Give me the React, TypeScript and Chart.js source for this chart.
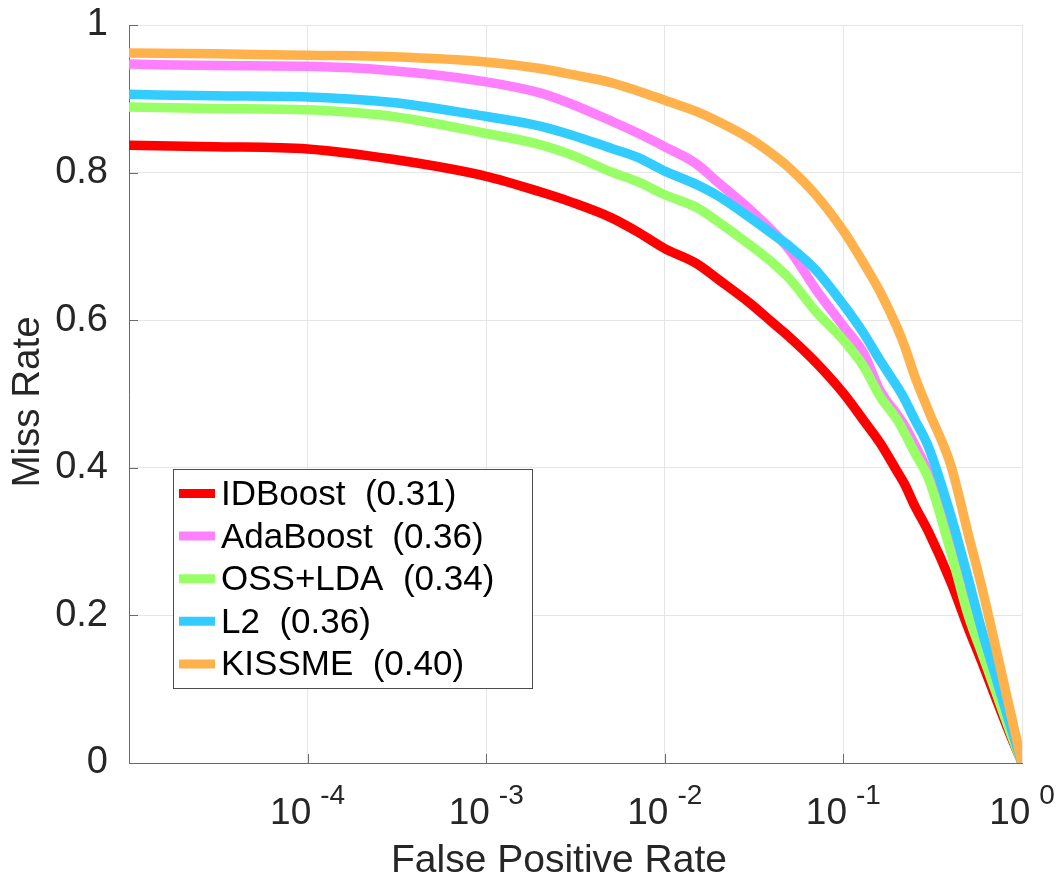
import React, { useEffect, useRef } from 'react';
import { Chart, registerables } from 'chart.js';

Chart.register(...registerables);

// ---- data ----
const fpr = [1e-5, 3e-5, 1e-4, 3e-4, 1e-3, 2e-3, 3e-3, 5e-3, 7e-3, 1e-2, 1.5e-2, 2e-2, 3e-2, 4e-2, 5e-2, 7e-2, 0.1, 0.13, 0.16, 0.2, 0.22, 0.25, 0.3, 0.4, 0.5, 0.6, 0.7, 0.85, 1];

const idBoost = [0.837, 0.835, 0.832, 0.818, 0.795, 0.774, 0.760, 0.739, 0.720, 0.697, 0.677, 0.655, 0.623, 0.597, 0.577, 0.543, 0.501, 0.464, 0.434, 0.395, 0.378, 0.349, 0.313, 0.245, 0.183, 0.135, 0.093, 0.041, 0];
const adaBoost = [0.947, 0.945, 0.944, 0.938, 0.923, 0.908, 0.893, 0.870, 0.854, 0.835, 0.812, 0.786, 0.750, 0.721, 0.695, 0.642, 0.592, 0.555, 0.505, 0.472, 0.457, 0.432, 0.392, 0.290, 0.205, 0.150, 0.103, 0.046, 0];
const ossLda = [0.889, 0.887, 0.885, 0.876, 0.853, 0.838, 0.824, 0.801, 0.788, 0.770, 0.753, 0.733, 0.702, 0.678, 0.656, 0.612, 0.573, 0.537, 0.497, 0.465, 0.447, 0.421, 0.385, 0.285, 0.200, 0.147, 0.102, 0.045, 0];
const l2 = [0.906, 0.904, 0.9025, 0.895, 0.876, 0.863, 0.851, 0.833, 0.821, 0.802, 0.784, 0.768, 0.739, 0.717, 0.700, 0.668, 0.621, 0.582, 0.546, 0.510, 0.493, 0.466, 0.428, 0.335, 0.250, 0.177, 0.123, 0.055, 0];
const kissme = [0.962, 0.961, 0.959, 0.957, 0.950, 0.941, 0.933, 0.922, 0.911, 0.898, 0.883, 0.869, 0.846, 0.825, 0.806, 0.770, 0.721, 0.677, 0.639, 0.590, 0.565, 0.525, 0.477, 0.403, 0.310, 0.235, 0.165, 0.075, 0];

const seriesNames = ['IDBoost  (0.31)', 'AdaBoost  (0.36)', 'OSS+LDA  (0.34)', 'L2  (0.36)', 'KISSME  (0.40)'];
const seriesValues = [idBoost, adaBoost, ossLda, l2, kissme];
const seriesColors = ['#FF0000', '#FF80FF', '#99FF66', '#33CCFF', '#FFB24C'];

const xTickValues = [1e-4, 1e-3, 1e-2, 1e-1, 1];
const xTickExponents = ['-4', '-3', '-2', '-1', '0'];
const yTickValues = [0, 0.2, 0.4, 0.6, 0.8, 1];

const xTitle = 'False Positive Rate';
const yTitle = 'Miss Rate';

const FONT = "'Liberation Sans', Arial, Helvetica, sans-serif";
const TEXT = '#262626';
const AXIS = '#6b6b6b';
const GRID = '#e6e6e6';

const decorPlugin = {
  id: 'decor',
  afterDraw(chart: any) {
    const ctx: CanvasRenderingContext2D = chart.ctx;
    const { left, bottom } = chart.chartArea;
    const xs = chart.scales.x;
    const ys = chart.scales.y;
    ctx.save();

    // inward tick marks
    ctx.strokeStyle = AXIS;
    ctx.lineWidth = 1;
    xTickValues.forEach((v) => {
      if (v === 1) return;
      const px = Math.round(xs.getPixelForValue(v)) + 0.5;
      ctx.beginPath();
      ctx.moveTo(px, bottom);
      ctx.lineTo(px, bottom - 9);
      ctx.stroke();
    });
    yTickValues.forEach((v) => {
      const py = Math.round(ys.getPixelForValue(v)) + 0.5;
      ctx.beginPath();
      ctx.moveTo(left, py);
      ctx.lineTo(left + 9, py);
      ctx.stroke();
    });

    // x tick labels: 10^n
    ctx.fillStyle = TEXT;
    ctx.textAlign = 'left';
    ctx.textBaseline = 'alphabetic';
    xTickValues.forEach((v, i) => {
      const px = xs.getPixelForValue(v);
      ctx.font = `37px ${FONT}`;
      const wb = ctx.measureText('10').width;
      ctx.font = `28px ${FONT}`;
      const we = ctx.measureText(xTickExponents[i]).width;
      const gap = 9;
      const start = px - (wb + gap + we) / 2;
      ctx.font = `37px ${FONT}`;
      ctx.fillText('10', start, 824);
      ctx.font = `28px ${FONT}`;
      ctx.fillText(xTickExponents[i], start + wb + gap, 804);
    });

    // axis titles
    ctx.font = `39px ${FONT}`;
    ctx.textAlign = 'center';
    ctx.fillText(xTitle, 559, 872);
    ctx.save();
    ctx.font = `38.5px ${FONT}`;
    ctx.translate(39, 402);
    ctx.rotate(-Math.PI / 2);
    ctx.fillText(yTitle, 0, 0);
    ctx.restore();

    // legend
    ctx.fillStyle = '#ffffff';
    ctx.fillRect(173.5, 469.5, 359, 219);
    ctx.strokeStyle = '#4d4d4d';
    ctx.lineWidth = 1;
    ctx.strokeRect(173.5, 469.5, 359, 219);
    ctx.font = `35px ${FONT}`;
    ctx.textAlign = 'left';
    seriesNames.forEach((name, i) => {
      const cy = 493.5 + i * 42.6;
      ctx.strokeStyle = seriesColors[i];
      ctx.lineWidth = 9;
      ctx.lineCap = 'butt';
      ctx.beginPath();
      ctx.moveTo(179, cy);
      ctx.lineTo(215, cy);
      ctx.stroke();
      ctx.fillStyle = '#000000';
      ctx.fillText(name, 221, cy + 11.5);
    });

    ctx.restore();
  },
};

export default function App() {
  const canvasRef = useRef<HTMLCanvasElement | null>(null);

  useEffect(() => {
    if (!canvasRef.current) return;
    const datasets = seriesValues.map((vals, i) => ({
      label: seriesNames[i],
      data: fpr.map((x, j) => ({ x, y: vals[j] })),
      borderColor: seriesColors[i],
      backgroundColor: seriesColors[i],
      borderWidth: 9.5,
      pointRadius: 0,
      pointHoverRadius: 0,
      cubicInterpolationMode: 'monotone' as const,
      fill: false,
      order: seriesValues.length - i,
      borderJoinStyle: 'round' as const,
      borderCapStyle: 'butt' as const,
    }));

    const chart = new Chart(canvasRef.current, {
      type: 'line',
      data: { datasets },
      options: {
        responsive: false,
        animation: false,
        devicePixelRatio: 1,
        parsing: false as any,
        layout: { padding: { top: 25, right: 34, left: 0, bottom: 0 } },
        plugins: { legend: { display: false }, tooltip: { enabled: false }, title: { display: false } },
        scales: {
          x: {
            type: 'logarithmic',
            min: 1e-5,
            max: 1,
            afterBuildTicks: (s: any) => {
              s.ticks = xTickValues.map((v) => ({ value: v }));
            },
            afterFit: (s: any) => {
              s.height = 114;
              s.paddingLeft = 0;
              s.paddingRight = 0;
            },
            grid: { color: GRID, lineWidth: 1, drawTicks: false },
            border: { display: true, color: AXIS, width: 1 },
            ticks: { display: false },
          },
          y: {
            type: 'linear',
            min: 0,
            max: 1,
            afterBuildTicks: (s: any) => {
              s.ticks = yTickValues.map((v) => ({ value: v }));
            },
            afterFit: (s: any) => {
              s.width = 129;
              s.paddingTop = 0;
              s.paddingBottom = 0;
            },
            grid: { color: GRID, lineWidth: 1, drawTicks: false },
            border: { display: true, color: AXIS, width: 1 },
            ticks: {
              padding: 21,
              color: TEXT,
              font: { family: FONT, size: 38 },
              callback: (v: any) => String(v),
            },
          },
        },
      } as any,
      plugins: [decorPlugin],
    });
    return () => chart.destroy();
  }, []);

  return (
    <div style={{ position: 'absolute', left: 0, top: 0, width: 1056, height: 877, background: '#ffffff' }}>
      <canvas ref={canvasRef} width={1056} height={877} style={{ display: 'block' }} />
    </div>
  );
}
